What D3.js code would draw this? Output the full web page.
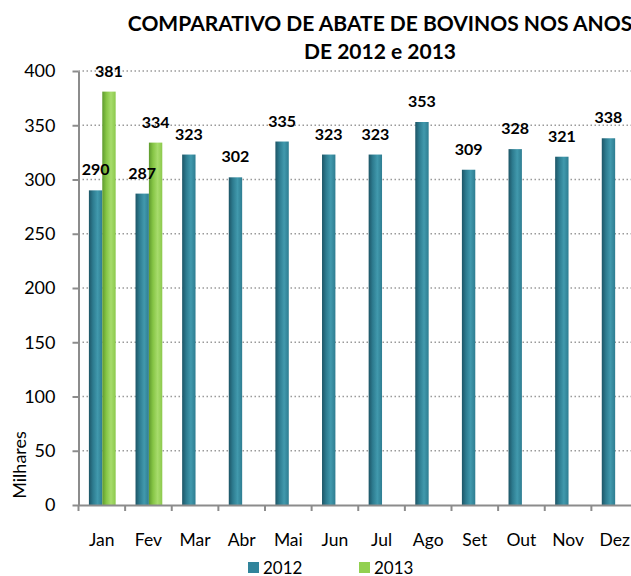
<!DOCTYPE html>
<html>
<head>
<meta charset="utf-8">
<script src="https://cdn.jsdelivr.net/npm/d3@7"></script>
<style>
  body { margin: 0; background: #fff; }
  svg { display: block; font-family: Lato, "Open Sans", sans-serif; }
</style>
</head>
<body>
<svg id="chart" width="631" height="576"></svg>
<script>
const months = ["Jan","Fev","Mar","Abr","Mai","Jun","Jul","Ago","Set","Out","Nov","Dez"];
const series = ["2012","2013"];
const values2012 = [290,287,323,302,335,323,323,353,309,328,321,338];
const values2013 = [381,334,null,null,null,null,null,null,null,null,null,null];
const yTicks = [0,50,100,150,200,250,300,350,400];
const titleLines = ["COMPARATIVO DE ABATE DE BOVINOS NOS ANOS","DE 2012 e 2013"];
const yLabel = "Milhares";

const svg = d3.select("#chart");
const W = 631, H = 576;
const plot = {left: 78.5, right: 638, top: 71, bottom: 505};

const defs = svg.append("defs");
function grad(id, stops) {
  const g = defs.append("linearGradient").attr("id", id)
    .attr("x1","0%").attr("x2","100%").attr("y1","0%").attr("y2","0%");
  stops.forEach(([o,c]) => g.append("stop").attr("offset", o).attr("stop-color", c));
}
grad("g2012", [["0%","#1d5566"],["30%","#2d7b8f"],["65%","#4199ad"],["100%","#2e7d91"]]);
grad("g2013", [["0%","#5e9a2e"],["30%","#86c545"],["65%","#a7dc6c"],["100%","#8cc94c"]]);
const colors = {"2012":"url(#g2012)","2013":"url(#g2013)"};
const legendColors = {"2012":"#31849b","2013":"#92d050"};

const x = d3.scaleBand().domain(months).range([plot.left, plot.right]).padding(0);
const x1 = d3.scaleBand().domain(series).range([x.bandwidth()*0.223, x.bandwidth()*0.797]).padding(0);
const y = d3.scaleLinear().domain([0,400]).range([plot.bottom, plot.top]);

// gridlines
svg.append("g").selectAll("line").data(yTicks.filter(d => d > 0)).join("line")
  .attr("x1", plot.left).attr("x2", W)
  .attr("y1", d => y(d)).attr("y2", d => y(d))
  .attr("stroke", "#9a9a9a").attr("stroke-width", 1.3).attr("stroke-dasharray", "1.5,2.5");

// bars
const data = [];
months.forEach((m,i) => {
  data.push({m, s:"2012", v: values2012[i]});
  if (values2013[i] != null) data.push({m, s:"2013", v: values2013[i]});
});
svg.append("g").selectAll("rect").data(data).join("rect")
  .attr("x", d => x(d.m) + x1(d.s))
  .attr("width", x1.bandwidth())
  .attr("y", d => y(d.v))
  .attr("height", d => y(0) - y(d.v))
  .attr("fill", d => colors[d.s]);

// value labels
svg.append("g").selectAll("text").data(data).join("text")
  .attr("x", d => x(d.m) + x1(d.s) + x1.bandwidth()/2)
  .attr("y", d => y(d.v) - 15)
  .attr("text-anchor", "middle")
  .attr("font-size", 16).attr("font-weight", "bold").attr("fill", "#000")
  .text(d => d.v);

// y axis
const yAxis = svg.append("g").attr("transform", `translate(${plot.left},0)`)
  .call(d3.axisLeft(y).tickValues(yTicks).tickSize(6).tickPadding(17).tickSizeOuter(0));
yAxis.select(".domain").attr("stroke", "#8c8c8c").attr("stroke-width", 2);
yAxis.selectAll(".tick line").attr("stroke", "#8c8c8c").attr("stroke-width", 2);
yAxis.selectAll(".tick text").attr("font-size", 18).attr("fill", "#000").attr("font-family", "Lato, sans-serif");

// x axis
const xAxis = svg.append("g").attr("transform", `translate(0,${plot.bottom})`)
  .call(d3.axisBottom(x).tickSize(0).tickPadding(29).tickSizeOuter(0));
xAxis.select(".domain").attr("stroke", "#8c8c8c").attr("stroke-width", 2);
xAxis.selectAll(".tick text").attr("font-size", 17.5).attr("fill", "#000").attr("font-family", "Lato, sans-serif");
// boundary ticks
svg.append("g").selectAll("line").data(months).join("line")
  .attr("x1", d => x(d)).attr("x2", d => x(d))
  .attr("y1", plot.bottom).attr("y2", plot.bottom + 6)
  .attr("stroke", "#8c8c8c").attr("stroke-width", 2);

// y label
svg.append("text")
  .attr("transform", "translate(26,465) rotate(-90)")
  .attr("text-anchor", "middle")
  .attr("font-size", 18).attr("fill", "#000")
  .text(yLabel);

// title
const title = svg.append("text").attr("text-anchor", "middle")
  .attr("font-size", 21).attr("font-weight", "bold").attr("fill", "#000");
title.selectAll("tspan").data(titleLines).join("tspan")
  .attr("x", 380).attr("y", (d,i) => 31 + i*28)
  .text(d => d);

// legend
const legendX = {"2012": 248, "2013": 359};
const lg = svg.append("g").selectAll("g").data(series).join("g")
  .attr("transform", d => `translate(${legendX[d]},562)`);
lg.append("rect").attr("width", 11).attr("height", 11).attr("fill", d => legendColors[d]);
lg.append("text").attr("x", 15).attr("y", 11.5).attr("font-size", 17).attr("fill", "#000").text(d => d);
</script>
</body>
</html>
